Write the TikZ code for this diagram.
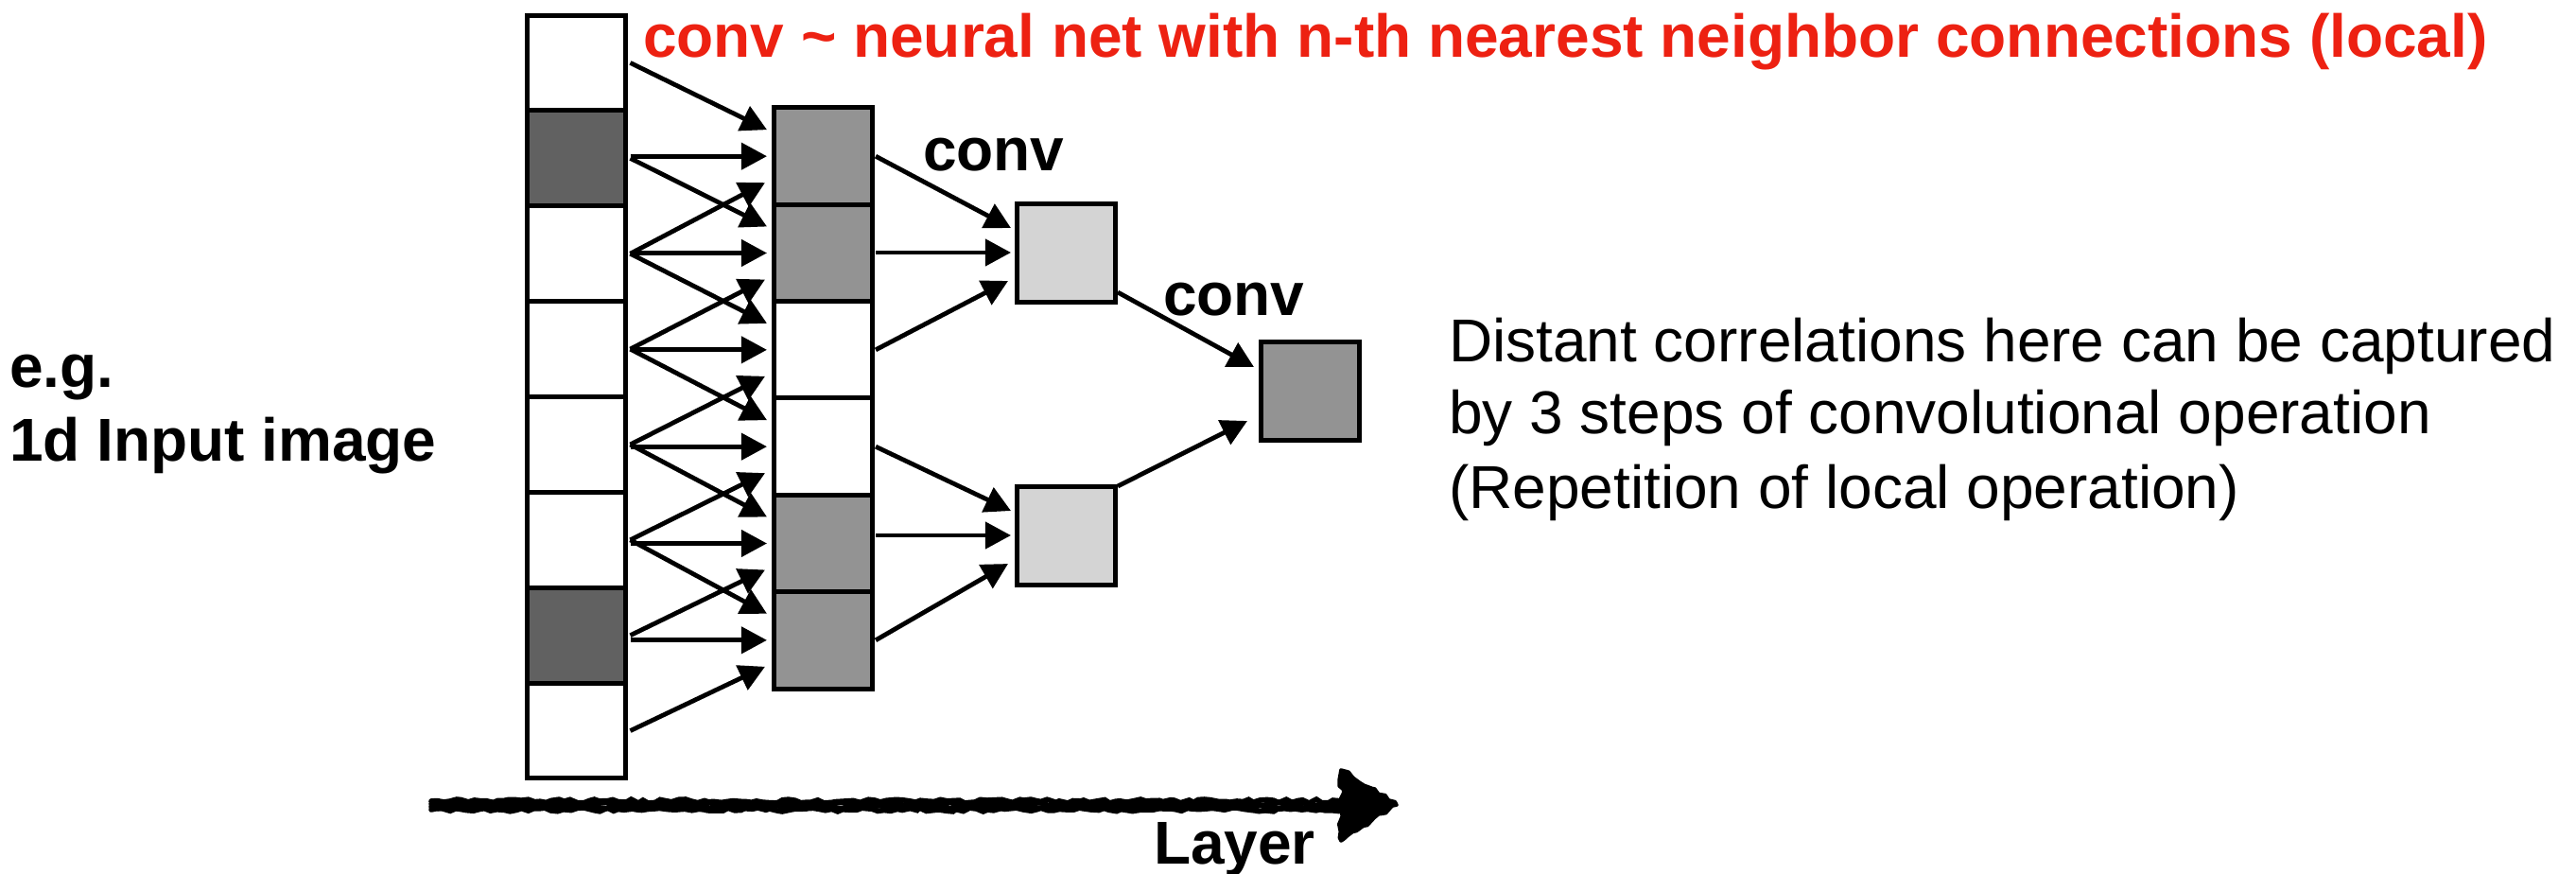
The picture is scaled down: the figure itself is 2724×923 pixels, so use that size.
\documentclass[tikz,border=0pt]{standalone}
\usepackage{fontspec}
\setmainfont{Liberation Sans}
\usetikzlibrary{arrows.meta,calc,decorations.pathmorphing}

\definecolor{convred}{RGB}{237,33,18}
\definecolor{darkcell}{RGB}{97,97,97}
\definecolor{midcell}{RGB}{147,147,147}
\definecolor{lightcell}{RGB}{212,212,212}

\tikzset{
  cellbase/.style={draw=black, line width=1.25pt, inner sep=0pt, outer sep=0pt, minimum width=26pt},
  incell/.style={cellbase, minimum height=25.2pt},
  hidcell/.style={cellbase, minimum height=25.6pt},
  sqcell/.style={cellbase, minimum height=26pt},
  conn/.style={line width=1.2pt, -{Triangle[length=6.8pt,width=7pt]}},
  lbl/.style={inner sep=0pt, outer sep=0pt, font=\fontsize{16}{19.25}\selectfont},
  boldlbl/.style={lbl, font=\fontsize{16}{19.25}\selectfont\bfseries},
  pencil/.style={draw=black, line width=1.4pt, line cap=round,
    decorate, decoration={random steps, segment length=1.6pt, amplitude=0.5pt}},
  pencilfill/.style={fill=black, draw=black, line width=0.9pt, line join=round,
    decorate, decoration={random steps, segment length=1.5pt, amplitude=0.7pt}}
}

\begin{document}
\begin{tikzpicture}[x=0.25pt, y=-0.25pt]
  \pgfmathsetseed{7}
  \useasboundingbox (0,0) rectangle (2724,923);

  % input column (8 cells)
  \foreach \i/\f in {0/white,1/darkcell,2/white,3/white,4/white,5/white,6/darkcell,7/white}
    \node[incell, fill=\f] (a\i) at (609.5, {16+100.875*(\i+0.5)}) {};

  % first convolution layer (6 cells)
  \foreach \j/\f in {0/midcell,1/midcell,2/white,3/white,4/midcell,5/midcell}
    \node[hidcell, fill=\f] (b\j) at (870, {114+102.33*(\j+0.5)}) {};

  % second convolution layer and output
  \node[sqcell, fill=lightcell] (c0) at (1127,267) {};
  \node[sqcell, fill=lightcell] (c1) at (1127,566) {};
  \node[sqcell, fill=midcell] (d) at (1385,413) {};

  % input -> first layer: each cell sees three neighbours
  \foreach \j in {0,...,5} {
    \pgfmathtruncatemacro\ia{\j}
    \pgfmathtruncatemacro\ib{\j+1}
    \pgfmathtruncatemacro\ic{\j+2}
    \draw[conn] ($(a\ia.east)+(5,0)$) -- ($(b\j.west)+(-7,-28)$);
    \draw[conn] ($(b\j.west -| a\ib.east)+(5,0)$) -- ($(b\j.west)+(-7,0)$);
    \draw[conn] ($(a\ic.east)+(5,0)$) -- ($(b\j.west)+(-9,28)$);
  }

  % first layer -> second layer
  \foreach \k/\p/\q/\r in {0/0/1/2, 1/3/4/5} {
    \draw[conn] ($(b\p.east)+(4,0)$) -- ($(c\k.west)+(-6,-26)$);
    \draw[conn] ($(c\k.west -| b\q.east)+(4,0)$) -- ($(c\k.west)+(-6,0)$);
    \draw[conn] ($(b\r.east)+(4,0)$) -- ($(c\k.west)+(-9,30)$);
  }

  % second layer -> output
  \draw[conn] ($(c0.south east)+(3,-10)$) -- ($(d.west)+(-7,-25)$);
  \draw[conn] ($(c1.north east)+(3,0)$) -- ($(d.west)+(-14,32)$);

  % labels
  \node[boldlbl, text=convred, anchor=base west] (title) at (680,60)
    {conv \textasciitilde{} neural net with n-th nearest neighbor connections (local)};
  \node[boldlbl, anchor=base west] (conv1) at (976,180) {conv};
  \node[boldlbl, anchor=base west] (conv2) at (1230,333) {conv};
  \node[boldlbl, anchor=base west] (eg) at (10,409) {e.g.};
  \node[boldlbl, anchor=base west] (input) at (10,487) {1d Input image};
  \node[lbl, anchor=base west] (rt1) at (1532,382) {Distant correlations here can be captured};
  \node[lbl, anchor=base west] (rt2) at (1532,458) {by 3 steps of convolutional operation};
  \node[lbl, anchor=base west] (rt3) at (1532,537) {(Repetition of local operation)};

  % hand-drawn layer axis
  \coordinate (ls) at (456,851);
  \coordinate (le) at (1425,851);
  \coordinate (lh1) at (1418,814);
  \coordinate (ltip) at (1477,851);
  \coordinate (lh2) at (1418,889);
  \foreach \dy in {-4,-1,2,5}
    \draw[pencil] ($(ls)+(0,\dy)$) -- ($(le)+(0,\dy)$);
  \filldraw[pencilfill] (lh1) -- (ltip) -- (lh2) -- cycle;
  \node[boldlbl, anchor=base west] (layer) at (1220,913) {Layer};
\end{tikzpicture}
\end{document}
